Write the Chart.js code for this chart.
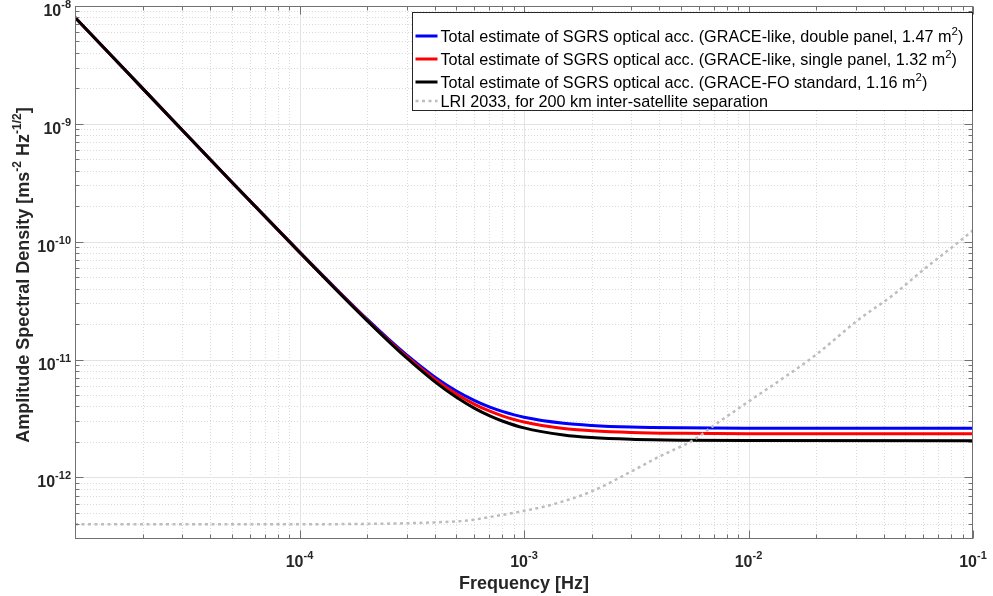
<!DOCTYPE html>
<html>
<head>
<meta charset="utf-8">
<script src="https://cdn.jsdelivr.net/npm/chart.js@4.4.1/dist/chart.umd.min.js"></script>
<style>
  html, body { margin: 0; padding: 0; background: #ffffff; }
  canvas { display: block; }
</style>
</head>
<body>
<canvas id="c" width="993" height="596"></canvas>
<script>
// ---------------- data ----------------
const freqHz = [1e-5, 2e-5, 5e-5, 1e-4, 1.5e-4, 2e-4, 2.5e-4, 3e-4, 4e-4, 5e-4, 6e-4, 7e-4, 8e-4, 1e-3, 1.5e-3, 2e-3, 3e-3, 5e-3, 1e-2, 1e-1];
const sgrsDoublePanel = [8.0e-9, 2.0e-9, 3.2e-10, 8.19e-11, 3.76e-11, 2.199e-11, 1.482e-11, 1.095e-11, 7.13e-12, 5.41e-12, 4.50e-12, 3.96e-12, 3.63e-12, 3.24e-12, 2.88e-12, 2.76e-12, 2.673e-12, 2.631e-12, 2.614e-12, 2.608e-12];
const sgrsSinglePanel = [8.0e-9, 2.0e-9, 3.2e-10, 8.16e-11, 3.72e-11, 2.167e-11, 1.45e-11, 1.063e-11, 6.82e-12, 5.10e-12, 4.19e-12, 3.66e-12, 3.33e-12, 2.95e-12, 2.60e-12, 2.49e-12, 2.407e-12, 2.367e-12, 2.35e-12, 2.345e-12];
const sgrsStandard = [8.0e-9, 2.0e-9, 3.2e-10, 8.13e-11, 3.69e-11, 2.137e-11, 1.42e-11, 1.032e-11, 6.50e-12, 4.78e-12, 3.87e-12, 3.34e-12, 3.01e-12, 2.63e-12, 2.29e-12, 2.18e-12, 2.107e-12, 2.07e-12, 2.055e-12, 2.05e-12];
const lriFreqHz = [1e-5, 1e-4, 2e-4, 3e-4, 4e-4, 5.6e-4, 7e-4, 1e-3, 1.3e-3, 2e-3, 3e-3, 4e-3, 5.75e-3, 7e-3, 1e-2, 1.37e-2, 2e-2, 3.11e-2, 4.38e-2, 6.16e-2, 8.67e-2, 1e-1];
const lri2033 = [4.0e-13, 4.0e-13, 4.03e-13, 4.08e-13, 4.15e-13, 4.3e-13, 4.6e-13, 5.2e-13, 5.8e-13, 7.6e-13, 1.12e-12, 1.5e-12, 2.1e-12, 2.75e-12, 4.4e-12, 6.6e-12, 1.1e-11, 2.2e-11, 3.5e-11, 6.0e-11, 1.0e-10, 1.25e-10];

const xTickExps = [-4, -3, -2, -1];
const yTickExps = [-12, -11, -10, -9, -8];
const xRange = [1e-5, 1e-1];
const yRange = [3.04e-13, 1e-8];

// legend entries: [text, superscript, tail]
const legendLabels = [
  ["Total estimate of SGRS optical acc. (GRACE-like, double panel, 1.47 m", "2", ")"],
  ["Total estimate of SGRS optical acc. (GRACE-like, single panel, 1.32 m", "2", ")"],
  ["Total estimate of SGRS optical acc. (GRACE-FO standard, 1.16 m", "2", ")"],
  ["LRI 2033, for 200 km inter-satellite separation", "", ""]
];
const xTitle = "Frequency [Hz]";
const yTitleParts = [["Amplitude Spectral Density [ms", false], ["-2", true], [" Hz", false], ["-1/2", true], ["]", false]];

// ---------------- helpers ----------------
const FONT = '"Liberation Sans", Arial, Helvetica, sans-serif';
function toXY(xs, ys) { return xs.map((x, i) => ({ x: x, y: ys[i] })); }

function drawRich(ctx, parts, x, y, align, baseFont, supFont, rise) {
  let total = 0;
  const ms = parts.map(p => { ctx.font = p[1] ? supFont : baseFont; const w = ctx.measureText(p[0]).width; total += w; return w; });
  let cx = align === 'center' ? x - total / 2 : (align === 'right' ? x - total : x);
  ctx.textAlign = 'left';
  ctx.textBaseline = 'alphabetic';
  parts.forEach((p, i) => {
    ctx.font = p[1] ? supFont : baseFont;
    ctx.fillText(p[0], cx, p[1] ? y - rise : y);
    cx += ms[i];
  });
  return total;
}

const styles = [
  { color: '#0000ff', width: 3, dash: [] },
  { color: '#ff0000', width: 3, dash: [] },
  { color: '#000000', width: 3, dash: [] },
  { color: '#bdbdbd', width: 2.5, dash: [3, 3.5] }
];

const matlabPlugin = {
  id: 'matlabAxes',
  beforeDraw(chart) {
    const ctx = chart.ctx;
    ctx.save();
    ctx.fillStyle = '#ffffff';
    ctx.fillRect(0, 0, chart.width, chart.height);
    ctx.restore();
  },
  beforeDatasetsDraw(chart) {
    const ctx = chart.ctx, a = chart.chartArea;
    const xs = chart.scales.x, ys = chart.scales.y;
    ctx.save();
    ctx.lineWidth = 1;
    // minor grid (dotted)
    ctx.strokeStyle = '#dadada';
    ctx.setLineDash([1, 2]);
    for (let k = -5; k <= -2; k++) for (let m = 2; m <= 9; m++) {
      const v = m * Math.pow(10, k); if (v <= xRange[0] || v >= xRange[1]) continue;
      const px = Math.round(xs.getPixelForValue(v)) + 0.5;
      ctx.beginPath(); ctx.moveTo(px, a.top); ctx.lineTo(px, a.bottom); ctx.stroke();
    }
    for (let k = -13; k <= -9; k++) for (let m = 2; m <= 9; m++) {
      const v = m * Math.pow(10, k); if (v <= yRange[0] || v >= yRange[1]) continue;
      const py = Math.round(ys.getPixelForValue(v)) + 0.5;
      ctx.beginPath(); ctx.moveTo(a.left, py); ctx.lineTo(a.right, py); ctx.stroke();
    }
    // major grid (solid)
    ctx.setLineDash([]);
    ctx.strokeStyle = '#e3e3e3';
    for (let k = -4; k <= -2; k++) {
      const px = Math.round(xs.getPixelForValue(Math.pow(10, k))) + 0.5;
      ctx.beginPath(); ctx.moveTo(px, a.top); ctx.lineTo(px, a.bottom); ctx.stroke();
    }
    for (let k = -12; k <= -9; k++) {
      const py = Math.round(ys.getPixelForValue(Math.pow(10, k))) + 0.5;
      ctx.beginPath(); ctx.moveTo(a.left, py); ctx.lineTo(a.right, py); ctx.stroke();
    }
    ctx.restore();
  },
  afterDatasetsDraw(chart) {
    const ctx = chart.ctx, a = chart.chartArea;
    const xs = chart.scales.x, ys = chart.scales.y;
    const L = Math.round(a.left) + 0.5, R = Math.round(a.right) - 0.5;
    const T = Math.round(a.top) + 0.5, B = Math.round(a.bottom) - 0.5;
    ctx.save();
    // axes box
    ctx.strokeStyle = '#707070';
    ctx.lineWidth = 1;
    ctx.strokeRect(L, T, R - L, B - T);
    // ticks (inward, all four sides)
    const tick = (px, len, vertical) => {
      ctx.beginPath();
      if (vertical) {
        ctx.moveTo(px, B); ctx.lineTo(px, B - len);
        ctx.moveTo(px, T); ctx.lineTo(px, T + len);
      } else {
        ctx.moveTo(L, px); ctx.lineTo(L + len, px);
        ctx.moveTo(R, px); ctx.lineTo(R - len, px);
      }
      ctx.stroke();
    };
    for (let k = -5; k <= -1; k++) {
      tick(Math.round(xs.getPixelForValue(Math.pow(10, k))) + 0.5, 8, true);
      if (k < -1) for (let m = 2; m <= 9; m++) tick(Math.round(xs.getPixelForValue(m * Math.pow(10, k))) + 0.5, 4, true);
    }
    for (let k = -13; k <= -8; k++) {
      const v = Math.pow(10, k);
      if (v >= yRange[0] && v <= yRange[1]) tick(Math.round(ys.getPixelForValue(v)) + 0.5, 8, false);
      if (k < -8) for (let m = 2; m <= 9; m++) {
        const w = m * v; if (w <= yRange[0] || w >= yRange[1]) continue;
        tick(Math.round(ys.getPixelForValue(w)) + 0.5, 4, false);
      }
    }
    // tick labels
    ctx.fillStyle = '#262626';
    const bf = 'bold 16px ' + FONT, sf = 'bold 11px ' + FONT;
    xTickExps.forEach(e => {
      const px = xs.getPixelForValue(Math.pow(10, e));
      drawRich(ctx, [["10", false], [String(e), true]], px, a.bottom + 28, 'center', bf, sf, 8);
    });
    yTickExps.forEach(e => {
      const py = ys.getPixelForValue(Math.pow(10, e));
      drawRich(ctx, [["10", false], [String(e), true]], a.left - 4, py + 10, 'right', bf, sf, 8);
    });
    // axis titles
    ctx.font = 'bold 18px ' + FONT;
    ctx.textAlign = 'center';
    ctx.textBaseline = 'alphabetic';
    ctx.fillText(xTitle, (a.left + a.right) / 2, a.bottom + 50);
    ctx.save();
    ctx.translate(29, 275);
    ctx.rotate(-Math.PI / 2);
    drawRich(ctx, yTitleParts, 0, 0, 'center', 'bold 18px ' + FONT, 'bold 12px ' + FONT, 8);
    ctx.restore();
    // legend
    const lx = 412.5, ly = 12.5, lw = 560, lh = 98;
    ctx.fillStyle = '#ffffff';
    ctx.fillRect(lx, ly, lw, lh);
    ctx.strokeStyle = '#262626';
    ctx.lineWidth = 1;
    ctx.strokeRect(lx, ly, lw, lh);
    const rows = [36, 59, 82, 101];
    legendLabels.forEach((lab, i) => {
      const s = styles[i];
      ctx.save();
      ctx.strokeStyle = s.color; ctx.lineWidth = s.width; ctx.setLineDash(s.dash);
      ctx.beginPath(); ctx.moveTo(lx + 3, rows[i]); ctx.lineTo(lx + 25, rows[i]); ctx.stroke();
      ctx.restore();
      ctx.fillStyle = '#000000';
      const parts = [[lab[0], false]];
      if (lab[1]) parts.push([lab[1], true]);
      if (lab[2]) parts.push([lab[2], false]);
      drawRich(ctx, parts, lx + 28, rows[i] + 6, 'left', '16.2px ' + FONT, '11.5px ' + FONT, 7);
    });
    ctx.restore();
  }
};

const series = [sgrsDoublePanel, sgrsSinglePanel, sgrsStandard];
const datasets = series.map((ys, i) => ({
  label: legendLabels[i][0] + legendLabels[i][1] + legendLabels[i][2],
  data: toXY(freqHz, ys),
  borderColor: styles[i].color,
  borderWidth: styles[i].width,
  pointRadius: 0,
  fill: false,
  cubicInterpolationMode: 'monotone',
  order: 4 - i
}));
datasets.push({
  label: legendLabels[3][0],
  data: toXY(lriFreqHz, lri2033),
  borderColor: styles[3].color,
  borderWidth: styles[3].width,
  borderDash: styles[3].dash,
  borderCapStyle: 'butt',
  pointRadius: 0,
  fill: false,
  cubicInterpolationMode: 'monotone',
  order: 0
});

new Chart(document.getElementById('c'), {
  type: 'line',
  data: { datasets: datasets },
  options: {
    responsive: false,
    devicePixelRatio: 1,
    animation: false,
    parsing: true,
    layout: { padding: { left: 75, right: 20, top: 6, bottom: 57 } },
    plugins: { legend: { display: false }, tooltip: { enabled: false }, title: { display: false } },
    scales: {
      x: { type: 'logarithmic', min: xRange[0], max: xRange[1], display: false },
      y: { type: 'logarithmic', min: yRange[0], max: yRange[1], display: false }
    }
  },
  plugins: [matlabPlugin]
});
</script>
</body>
</html>
